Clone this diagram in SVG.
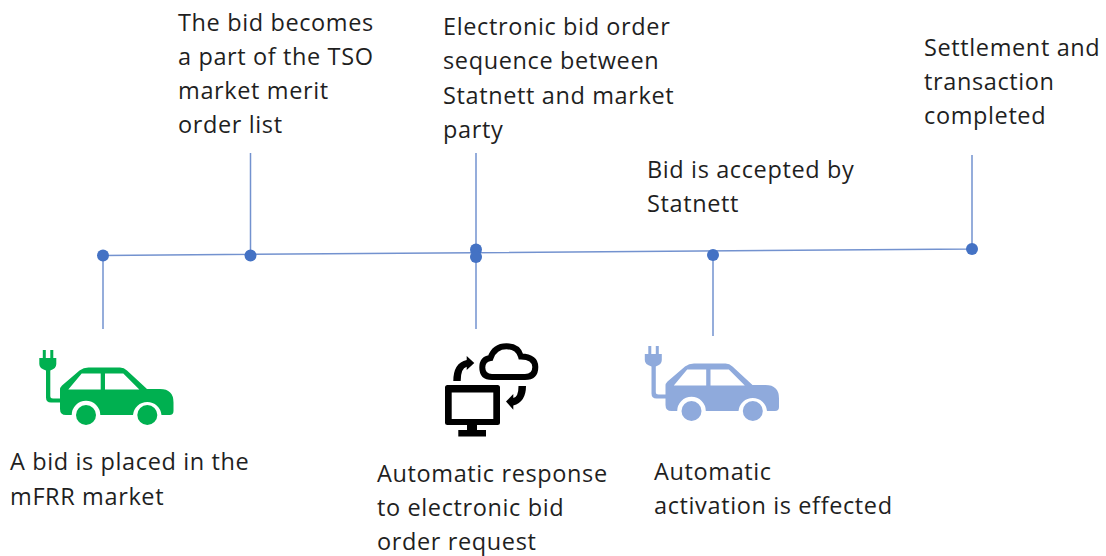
<svg xmlns="http://www.w3.org/2000/svg" xmlns:xlink="http://www.w3.org/1999/xlink" width="1106" height="556" viewBox="0 0 1106 556">
<style>
text{font-family:"Open Sans","Noto Sans",sans-serif;font-size:23.5px;fill:#1f1f1f;letter-spacing:.62px}
.l{stroke:#7392cf;stroke-width:1.5;fill:none}
.d{fill:#4472c4}
</style>
<defs>
<g id="car">
<path d="M42.800 350h3v9h-3zM50.300 350h3v9h-3zM39.300 358H56.300V364Q56.300 368.500 50.300 370.500V396Q50.300 398.500 53 398.500H61V402.500H51Q46 402.500 46 397.500V370.500Q39.300 368.500 39.300 364z"/>
<path fill-rule="evenodd" d="M60 389.500Q60 387.500 62 385.500L79.500 370.500Q83.500 367.500 88.500 367.500H120Q124 367.500 127 370.500L147 389H160Q173.500 389 173.500 402.500V411Q173.500 415 169.500 415H161.500A14.300 14.300 0 0 0 133 415H100.300A14.300 14.300 0 0 0 71.700 415H66Q60 415 60 409zM68.300 389.500H100.700V373.500H81.700zM105 373.500V389.500H139.300L123.300 373.500z"/>
<circle cx="86" cy="415" r="10"/><circle cx="147.300" cy="415" r="10"/>
</g>
</defs>
<g id="connectors">
<path class="l" d="M103 255.500 972 249M103 255v74M250.500 153v102M476 153v176M713 255v81M972 155v94"/>
</g>
<g id="n1"><circle class="d" cx="103" cy="255.500" r="6"/>
<use xlink:href="#car" href="#car" fill="#00b050"/>
<text x="10" y="470">A bid is placed in the</text><text x="10" y="505">mFRR market</text></g>
<g id="n2"><circle class="d" cx="250.500" cy="255.500" r="6"/>
<text x="178" y="31">The bid becomes</text><text x="178" y="65">a part of the TSO</text><text x="178" y="99">market merit</text><text x="178" y="133">order list</text></g>
<g id="n3"><circle class="d" cx="476" cy="249.500" r="6"/>
<text x="443" y="35">Electronic bid order</text><text x="443" y="69">sequence between</text><text x="443" y="104">Statnett and market</text><text x="443" y="138">party</text></g>
<g id="n4"><circle class="d" cx="476" cy="257" r="6"/>
<path fill-rule="evenodd" d="M447.500 385H497.500Q500 385 500 387.500V422.500Q500 425 497.500 425H477V430H486V436.500H458.300V430H467V425H447.500Q445 425 445 422.500V387.500Q445 385 447.500 385zM451.700 392.500V419H493.300V392.500z"/>
<path fill="none" stroke="#000" stroke-width="6" d="M492 377Q482.300 377 482.300 367.500Q482.300 359 490.500 358Q494.500 346.300 506.500 346.300Q518 346.300 521 356.500Q535.300 357 535.300 367Q535.300 377 525 377Z"/>
<path d="M453.300 381Q453.300 363 466.700 360V356L474.300 363L466.700 370V366.700Q460.700 368 460.700 381zM518.500 386Q518.500 397 513.300 398V394L506 401.500L513.300 409.700V405.500Q526 402 526 386z"/>
<text x="377" y="482">Automatic response</text><text x="377" y="516">to electronic bid</text><text x="377" y="550">order request</text></g>
<g id="n5"><circle class="d" cx="713" cy="255" r="6"/>
<use xlink:href="#car" href="#car" fill="#8faadc" transform="translate(605.500 -4)"/>
<text x="654" y="480">Automatic</text><text x="654" y="514">activation is effected</text></g>
<g id="n6"><text x="647" y="178">Bid is accepted by</text><text x="647" y="212">Statnett</text></g>
<g id="n7"><circle class="d" cx="972" cy="249" r="6"/>
<text x="924" y="56">Settlement and</text><text x="924" y="90">transaction</text><text x="924" y="124">completed</text></g>
</svg>
